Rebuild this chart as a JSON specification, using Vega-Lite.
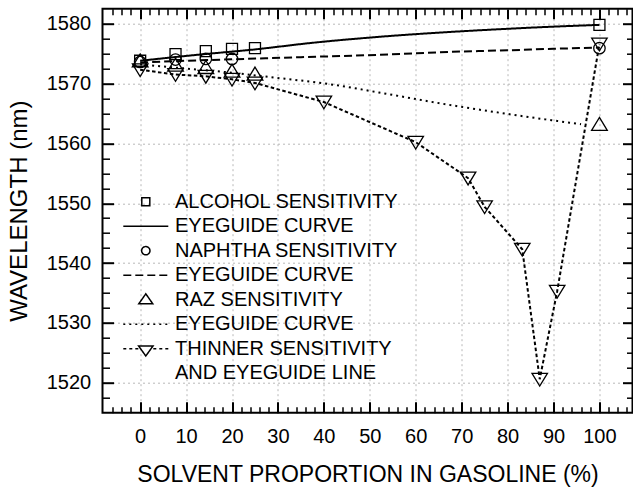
{
  "$schema": "https://vega.github.io/schema/vega-lite/v6.json",
  "width": 530,
  "height": 404,
  "autosize": "none",
  "padding": {"left": 102.5, "top": 8.7, "right": 0.5, "bottom": 75.3},
  "config": {
    "font": "Liberation Sans",
    "view": {"stroke": "black", "strokeWidth": 2},
    "axis": {"domain": false, "tickColor": "black", "labelColor": "black", "titleColor": "black", "labelFont": "Liberation Sans", "titleFont": "Liberation Sans", "titleFontWeight": "normal", "labelFlush": false, "labelOverlap": false},
    "legend": {"labelLimit": 0}
  },
  "data": {
    "values": [
      {"s": "a", "x": 0, "y": 1573.8}, {"s": "a", "x": 7.7, "y": 1574.9}, {"s": "a", "x": 14.3, "y": 1575.4}, {"s": "a", "x": 20, "y": 1575.8}, {"s": "a", "x": 25, "y": 1575.9}, {"s": "a", "x": 100, "y": 1579.8},
      {"s": "c", "x": 0, "y": 1573.6}, {"s": "c", "x": 7.7, "y": 1574.0}, {"s": "c", "x": 14.3, "y": 1574.1}, {"s": "c", "x": 20, "y": 1574.1}, {"s": "c", "x": 100, "y": 1575.9},
      {"s": "k", "x": 0, "y": 1573.7}, {"s": "k", "x": 7.7, "y": 1573.0}, {"s": "k", "x": 14.3, "y": 1572.6}, {"s": "k", "x": 20, "y": 1572.0}, {"s": "k", "x": 25, "y": 1571.5}, {"s": "k", "x": 100, "y": 1563.1},
      {"s": "i", "x": 0, "y": 1572.3}, {"s": "i", "x": 7.7, "y": 1571.5}, {"s": "i", "x": 14.3, "y": 1571.2}, {"s": "i", "x": 20, "y": 1570.7}, {"s": "i", "x": 25, "y": 1570.1}, {"s": "i", "x": 40, "y": 1566.9}, {"s": "i", "x": 60, "y": 1560.2}, {"s": "i", "x": 71.4, "y": 1554.2}, {"s": "i", "x": 75, "y": 1549.4}, {"s": "i", "x": 83.2, "y": 1542.3}, {"s": "i", "x": 87, "y": 1520.6}, {"s": "i", "x": 90.8, "y": 1535.3}, {"s": "i", "x": 100, "y": 1576.6},
      {"s": "j", "x": 0, "y": 1572.3}, {"s": "j", "x": 7.7, "y": 1571.5}, {"s": "j", "x": 14.3, "y": 1571.2}, {"s": "j", "x": 20, "y": 1570.7}, {"s": "j", "x": 25, "y": 1570.1}, {"s": "j", "x": 40, "y": 1566.9}, {"s": "j", "x": 60, "y": 1560.2}, {"s": "j", "x": 71.4, "y": 1554.2}, {"s": "j", "x": 75, "y": 1549.4}, {"s": "j", "x": 83.2, "y": 1542.3}, {"s": "j", "x": 87, "y": 1520.6}, {"s": "j", "x": 90.8, "y": 1535.3}, {"s": "j", "x": 100, "y": 1576.6},
      {"s": "b", "x": 0, "y": 1573.8}, {"s": "b", "x": 12.5, "y": 1574.8}, {"s": "b", "x": 25, "y": 1575.7}, {"s": "b", "x": 37.5, "y": 1576.8}, {"s": "b", "x": 52, "y": 1577.8}, {"s": "b", "x": 63, "y": 1578.4}, {"s": "b", "x": 74, "y": 1578.9}, {"s": "b", "x": 87, "y": 1579.4}, {"s": "b", "x": 100, "y": 1579.8},
      {"s": "d", "x": 0, "y": 1573.5}, {"s": "d", "x": 10, "y": 1573.8}, {"s": "d", "x": 20, "y": 1574.05}, {"s": "d", "x": 35, "y": 1574.4}, {"s": "d", "x": 52, "y": 1574.8}, {"s": "d", "x": 68, "y": 1575.3}, {"s": "d", "x": 80, "y": 1575.55}, {"s": "d", "x": 90, "y": 1575.8}, {"s": "d", "x": 100, "y": 1576.0},
      {"s": "f", "x": 0, "y": 1573.2}, {"s": "f", "x": 10, "y": 1572.5}, {"s": "f", "x": 20, "y": 1571.8}, {"s": "f", "x": 28, "y": 1571.1}, {"s": "f", "x": 42, "y": 1569.8}, {"s": "f", "x": 52, "y": 1568.5}, {"s": "f", "x": 66, "y": 1566.6}, {"s": "f", "x": 81, "y": 1564.8}, {"s": "f", "x": 96, "y": 1563.2}
    ]
  },
  "resolve": {"axis": {"x": "independent", "y": "independent"}},
  "layer": [
    {
      "transform": [{"filter": {"field": "s", "oneOf": ["b", "d", "f"]}}],
      "mark": {"type": "line", "color": "black", "strokeWidth": 2, "interpolate": "monotone"},
      "encoding": {
        "x": {"field": "x", "type": "quantitative", "scale": {"domain": [-8.2, 107.2], "nice": false, "zero": false},
          "axis": {"orient": "bottom", "values": [0, 10, 20, 30, 40, 50, 60, 70, 80, 90, 100], "format": "d", "tickSize": -11, "tickWidth": 2, "labelPadding": 25, "labelFontSize": 20, "grid": true, "gridColor": "#b8b8b8", "gridDash": [2, 3], "gridWidth": 1, "title": "SOLVENT PROPORTION IN GASOLINE (%)", "titleFontSize": 23, "titleY": 69, "titleBaseline": "alphabetic"}},
        "y": {"field": "y", "type": "quantitative", "scale": {"domain": [1515, 1582.5], "nice": false, "zero": false},
          "axis": {"orient": "left", "values": [1520, 1530, 1540, 1550, 1560, 1570, 1580], "format": "d", "tickSize": -11, "tickWidth": 2, "labelPadding": 22.8, "labelFontSize": 20, "grid": true, "gridColor": "#b8b8b8", "gridDash": [2, 3], "gridWidth": 1, "title": "WAVELENGTH (nm)", "titleFontSize": 24, "titleX": -76.5, "titleBaseline": "alphabetic"}},
        "strokeDash": {"field": "s", "type": "nominal",
          "scale": {"domain": ["a", "b", "c", "d", "e", "f", "g", "h", "i", "j", "k"], "range": [[1, 0], [1, 0], [1, 0], [8, 4], [1, 0], [2, 4], [1, 0], [1, 0], [1, 0], [3.5, 2.5], [1, 0]]},
          "legend": {"title": null, "orient": "none", "legendX": 19.8, "legendY": 183, "direction": "vertical", "values": ["a", "b", "c", "d", "e", "f", "g", "h"], "symbolSize": 2025, "symbolStrokeWidth": 1.5, "symbolStrokeColor": "black", "symbolFillColor": "transparent", "labelFontSize": 20, "labelFont": "Liberation Sans", "labelColor": "black", "labelLimit": 0, "clipHeight": 20, "rowPadding": 4.5, "labelOffset": 5.7, "padding": 0,
            "labelExpr": "datum.value == 'a' ? 'ALCOHOL SENSITIVITY' : datum.value == 'c' ? 'NAPHTHA SENSITIVITY' : datum.value == 'e' ? 'RAZ SENSITIVITY' : datum.value == 'g' ? 'THINNER SENSITIVITY' : datum.value == 'h' ? 'AND EYEGUIDE LINE' : 'EYEGUIDE CURVE'",
            "encode": {"symbols": {"update": {"fill": {"value": "transparent"}, "stroke": {"value": "black"}, "strokeWidth": {"value": 1.5}, "opacity": {"value": 1}}}}}}
      }
    },
    {
      "transform": [{"filter": {"field": "s", "equal": "j"}}],
      "mark": {"type": "line", "color": "black", "strokeWidth": 2},
      "encoding": {
        "x": {"field": "x", "type": "quantitative", "scale": {"domain": [-8.2, 107.2], "nice": false, "zero": false},
          "axis": {"orient": "bottom", "values": [-6, -4, -2, 2, 4, 6, 8, 12, 14, 16, 18, 22, 24, 26, 28, 32, 34, 36, 38, 42, 44, 46, 48, 52, 54, 56, 58, 62, 64, 66, 68, 72, 74, 76, 78, 82, 84, 86, 88, 92, 94, 96, 98, 102, 104, 106], "tickSize": -6, "tickWidth": 1.5, "labels": false, "grid": false, "title": null}},
        "y": {"field": "y", "type": "quantitative", "scale": {"domain": [1515, 1582.5], "nice": false, "zero": false},
          "axis": {"orient": "left", "values": [1517.5, 1522.5, 1525, 1527.5, 1532.5, 1535, 1537.5, 1542.5, 1545, 1547.5, 1552.5, 1555, 1557.5, 1562.5, 1565, 1567.5, 1572.5, 1575, 1577.5], "tickSize": -7, "tickWidth": 1.5, "labels": false, "grid": false, "title": null}},
        "strokeDash": {"field": "s", "type": "nominal",
          "scale": {"domain": ["a", "b", "c", "d", "e", "f", "g", "h", "i", "j", "k"], "range": [[1, 0], [1, 0], [1, 0], [8, 4], [1, 0], [2, 4], [1, 0], [1, 0], [1, 0], [3.5, 2.5], [1, 0]]},
          "legend": {"title": null, "orient": "none", "legendX": 19.8, "legendY": 183, "direction": "vertical", "values": ["a", "b", "c", "d", "e", "f", "g", "h"], "symbolSize": 2025, "symbolStrokeWidth": 1.5, "symbolStrokeColor": "black", "symbolFillColor": "transparent", "labelFontSize": 20, "labelFont": "Liberation Sans", "labelColor": "black", "labelLimit": 0, "clipHeight": 20, "rowPadding": 4.5, "labelOffset": 5.7, "padding": 0,
            "labelExpr": "datum.value == 'a' ? 'ALCOHOL SENSITIVITY' : datum.value == 'c' ? 'NAPHTHA SENSITIVITY' : datum.value == 'e' ? 'RAZ SENSITIVITY' : datum.value == 'g' ? 'THINNER SENSITIVITY' : datum.value == 'h' ? 'AND EYEGUIDE LINE' : 'EYEGUIDE CURVE'",
            "encode": {"symbols": {"update": {"fill": {"value": "transparent"}, "stroke": {"value": "black"}, "strokeWidth": {"value": 1.5}, "opacity": {"value": 1}}}}}}
      }
    },
    {
      "transform": [{"filter": {"field": "s", "oneOf": ["a", "c", "k"]}}],
      "mark": {"type": "point", "filled": false, "color": "black", "strokeWidth": 1.3, "size": 3820, "opacity": 1},
      "encoding": {
        "x": {"field": "x", "type": "quantitative", "scale": {"domain": [-8.2, 107.2], "nice": false, "zero": false},
          "axis": {"orient": "top", "values": [0, 10, 20, 30, 40, 50, 60, 70, 80, 90, 100], "tickSize": -10, "tickWidth": 2, "labels": false, "grid": false, "title": null}},
        "y": {"field": "y", "type": "quantitative", "scale": {"domain": [1515, 1582.5], "nice": false, "zero": false},
          "axis": {"orient": "right", "values": [1520, 1530, 1540, 1550, 1560, 1570, 1580], "tickSize": -10, "tickWidth": 2, "labels": false, "grid": false, "title": null}},
        "shape": {"field": "s", "type": "nominal",
          "scale": {"domain": ["a", "b", "c", "d", "e", "f", "g", "h", "i", "j", "k"], "range": [
            "M-0.178,-0.178H0.178V0.178H-0.178Z",
            "M-1,0H1",
            "M-0.185,0A0.185,0.185 0 1,0 0.185,0A0.185,0.185 0 1,0 -0.185,0Z",
            "M-1,0H1",
            "M0,-0.26L0.31,0.18L-0.31,0.18Z",
            "M-1,0H1",
            "M-1,0H-0.867M-0.733,0H-0.6M-0.467,0H-0.333M0.333,0H0.467M0.6,0H0.733M0.867,0H1M-0.32,-0.12L0.32,-0.12L0,0.325Z",
            "M0,0Z",
            "M-0.25,-0.19L0.25,-0.19L0,0.22Z",
            "M-1,0H1",
            "M0,-0.24L0.254,0.18L-0.254,0.18Z"]},
          "legend": {"title": null, "orient": "none", "legendX": 19.8, "legendY": 183, "direction": "vertical", "values": ["a", "b", "c", "d", "e", "f", "g", "h"], "symbolSize": 2025, "symbolStrokeWidth": 1.5, "symbolStrokeColor": "black", "symbolFillColor": "transparent", "labelFontSize": 20, "labelFont": "Liberation Sans", "labelColor": "black", "labelLimit": 0, "clipHeight": 20, "rowPadding": 4.5, "labelOffset": 5.7, "padding": 0,
            "labelExpr": "datum.value == 'a' ? 'ALCOHOL SENSITIVITY' : datum.value == 'c' ? 'NAPHTHA SENSITIVITY' : datum.value == 'e' ? 'RAZ SENSITIVITY' : datum.value == 'g' ? 'THINNER SENSITIVITY' : datum.value == 'h' ? 'AND EYEGUIDE LINE' : 'EYEGUIDE CURVE'",
            "encode": {"symbols": {"update": {"fill": {"value": "transparent"}, "stroke": {"value": "black"}, "strokeWidth": {"value": 1.5}, "opacity": {"value": 1}}}}}}
      }
    },
    {
      "transform": [{"filter": {"field": "s", "equal": "i"}}],
      "mark": {"type": "point", "filled": false, "color": "black", "strokeWidth": 1.3, "size": 3820, "opacity": 1},
      "encoding": {
        "x": {"field": "x", "type": "quantitative", "scale": {"domain": [-8.2, 107.2], "nice": false, "zero": false},
          "axis": {"orient": "top", "values": [-6, -4, -2, 2, 4, 6, 8, 12, 14, 16, 18, 22, 24, 26, 28, 32, 34, 36, 38, 42, 44, 46, 48, 52, 54, 56, 58, 62, 64, 66, 68, 72, 74, 76, 78, 82, 84, 86, 88, 92, 94, 96, 98, 102, 104, 106], "tickSize": -6, "tickWidth": 1.5, "labels": false, "grid": false, "title": null}},
        "y": {"field": "y", "type": "quantitative", "scale": {"domain": [1515, 1582.5], "nice": false, "zero": false},
          "axis": {"orient": "right", "values": [1517.5, 1522.5, 1525, 1527.5, 1532.5, 1535, 1537.5, 1542.5, 1545, 1547.5, 1552.5, 1555, 1557.5, 1562.5, 1565, 1567.5, 1572.5, 1575, 1577.5], "tickSize": -6, "tickWidth": 1.5, "labels": false, "grid": false, "title": null}},
        "shape": {"field": "s", "type": "nominal",
          "scale": {"domain": ["a", "b", "c", "d", "e", "f", "g", "h", "i", "j", "k"], "range": [
            "M-0.178,-0.178H0.178V0.178H-0.178Z",
            "M-1,0H1",
            "M-0.185,0A0.185,0.185 0 1,0 0.185,0A0.185,0.185 0 1,0 -0.185,0Z",
            "M-1,0H1",
            "M0,-0.26L0.31,0.18L-0.31,0.18Z",
            "M-1,0H1",
            "M-1,0H-0.867M-0.733,0H-0.6M-0.467,0H-0.333M0.333,0H0.467M0.6,0H0.733M0.867,0H1M-0.32,-0.12L0.32,-0.12L0,0.325Z",
            "M0,0Z",
            "M-0.25,-0.19L0.25,-0.19L0,0.22Z",
            "M-1,0H1",
            "M0,-0.24L0.254,0.18L-0.254,0.18Z"]},
          "legend": {"title": null, "orient": "none", "legendX": 19.8, "legendY": 183, "direction": "vertical", "values": ["a", "b", "c", "d", "e", "f", "g", "h"], "symbolSize": 2025, "symbolStrokeWidth": 1.5, "symbolStrokeColor": "black", "symbolFillColor": "transparent", "labelFontSize": 20, "labelFont": "Liberation Sans", "labelColor": "black", "labelLimit": 0, "clipHeight": 20, "rowPadding": 4.5, "labelOffset": 5.7, "padding": 0,
            "labelExpr": "datum.value == 'a' ? 'ALCOHOL SENSITIVITY' : datum.value == 'c' ? 'NAPHTHA SENSITIVITY' : datum.value == 'e' ? 'RAZ SENSITIVITY' : datum.value == 'g' ? 'THINNER SENSITIVITY' : datum.value == 'h' ? 'AND EYEGUIDE LINE' : 'EYEGUIDE CURVE'",
            "encode": {"symbols": {"update": {"fill": {"value": "transparent"}, "stroke": {"value": "black"}, "strokeWidth": {"value": 1.5}, "opacity": {"value": 1}}}}}}
      }
    }
  ]
}
